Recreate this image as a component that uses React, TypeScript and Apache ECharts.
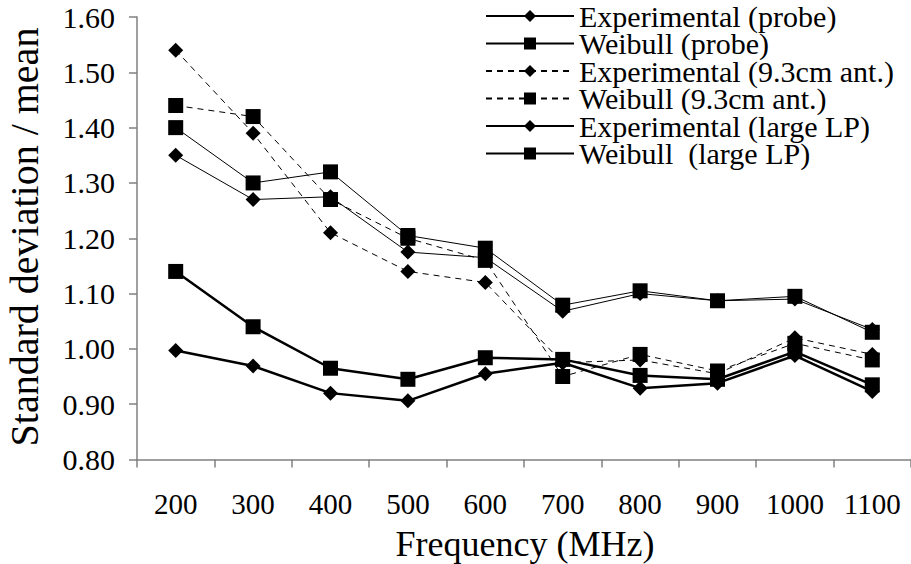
import React, { useEffect, useRef } from "react";
import * as echarts from "echarts";

const categories = ["200", "300", "400", "500", "600", "700", "800", "900", "1000", "1100"];
const expProbe = [1.35, 1.27, 1.275, 1.175, 1.165, 1.068, 1.1, 1.087, 1.09, 1.035];
const weibullProbe = [1.4, 1.3, 1.32, 1.205, 1.182, 1.079, 1.105, 1.087, 1.095, 1.03];
const exp93 = [1.54, 1.39, 1.21, 1.14, 1.12, 0.975, 0.98, 0.955, 1.02, 0.99];
const weibull93 = [1.44, 1.42, 1.27, 1.2, 1.16, 0.95, 0.99, 0.96, 1.01, 0.98];
const expLP = [0.997, 0.969, 0.92, 0.906, 0.955, 0.975, 0.929, 0.938, 0.988, 0.923];
const weibullLP = [1.14, 1.04, 0.965, 0.945, 0.984, 0.981, 0.952, 0.945, 0.995, 0.935];
const legendNames = [
  "Experimental (probe)",
  "Weibull (probe)",
  "Experimental (9.3cm ant.)",
  "Weibull (9.3cm ant.)",
  "Experimental (large LP)",
  "Weibull  (large LP)",
];
const xTitle = "Frequency (MHz)";
const yTitle = "Standard deviation / mean";

const FF = "serif";

export default function App() {
  const ref = useRef<HTMLDivElement>(null);
  useEffect(() => {
    if (!ref.current) return;
    const chart = echarts.init(ref.current, undefined, { renderer: "svg" });
    const mk = (name: string, data: number[], symbol: string, width: number, dashed: boolean) => ({
      name,
      type: "line",
      data,
      symbol,
      symbolSize: [15, 15],
      showSymbol: true,
      itemStyle: { color: "#000" },
      lineStyle: { color: "#000", width, type: dashed ? [6, 5] : "solid" },
    });
    chart.setOption({
      animation: false,
      textStyle: { fontFamily: FF },
      grid: { left: 137, top: 17, width: 780, height: 442.5 },
      legend: {
        orient: "vertical",
        left: 480,
        top: -4,
        itemWidth: 88,
        itemHeight: 15,
        itemGap: -2.5,
        textStyle: { fontFamily: FF, fontSize: 30, color: "#000" },
        data: legendNames,
      },
      graphic: [
        {
          type: "text",
          x: 525,
          y: 544,
          style: { text: xTitle, fontFamily: FF, fontSize: 36, fill: "#000", align: "center", verticalAlign: "middle" },
        },
        {
          type: "text",
          x: 24,
          y: 237,
          rotation: Math.PI / 2,
          style: { text: yTitle, fontFamily: FF, fontSize: 40, fill: "#000", align: "center", verticalAlign: "middle" },
        },
      ],
      xAxis: {
        type: "category",
        data: categories,
        boundaryGap: true,
        axisLine: { lineStyle: { color: "#808080", width: 1.5 } },
        axisTick: { show: true, length: 8, lineStyle: { color: "#808080", width: 1.5 } },
        axisLabel: { fontFamily: FF, fontSize: 29, color: "#000", margin: 30, interval: 0, hideOverlap: false },
        splitLine: { show: false },
      },
      yAxis: {
        type: "value",
        min: 0.8,
        max: 1.6,
        interval: 0.1,
        axisLine: { show: true, lineStyle: { color: "#808080", width: 1.5 } },
        axisTick: { show: true, length: 8, lineStyle: { color: "#808080", width: 1.5 } },
        axisLabel: {
          fontFamily: FF,
          fontSize: 30,
          color: "#000",
          margin: 22,
          formatter: (v: number) => v.toFixed(2),
        },
        splitLine: { show: false },
      },
      series: [
        mk(legendNames[0], expProbe, "diamond", 1, false),
        mk(legendNames[1], weibullProbe, "rect", 1, false),
        mk(legendNames[2], exp93, "diamond", 1, true),
        mk(legendNames[3], weibull93, "rect", 1, true),
        mk(legendNames[4], expLP, "diamond", 2.5, false),
        mk(legendNames[5], weibullLP, "rect", 2.5, false),
      ],
    });
    return () => chart.dispose();
  }, []);
  return (
    <div style={{ position: "absolute", left: 0, top: 0 }}>
      <div ref={ref} style={{ width: 911, height: 564, background: "#fff" }} />
    </div>
  );
}
